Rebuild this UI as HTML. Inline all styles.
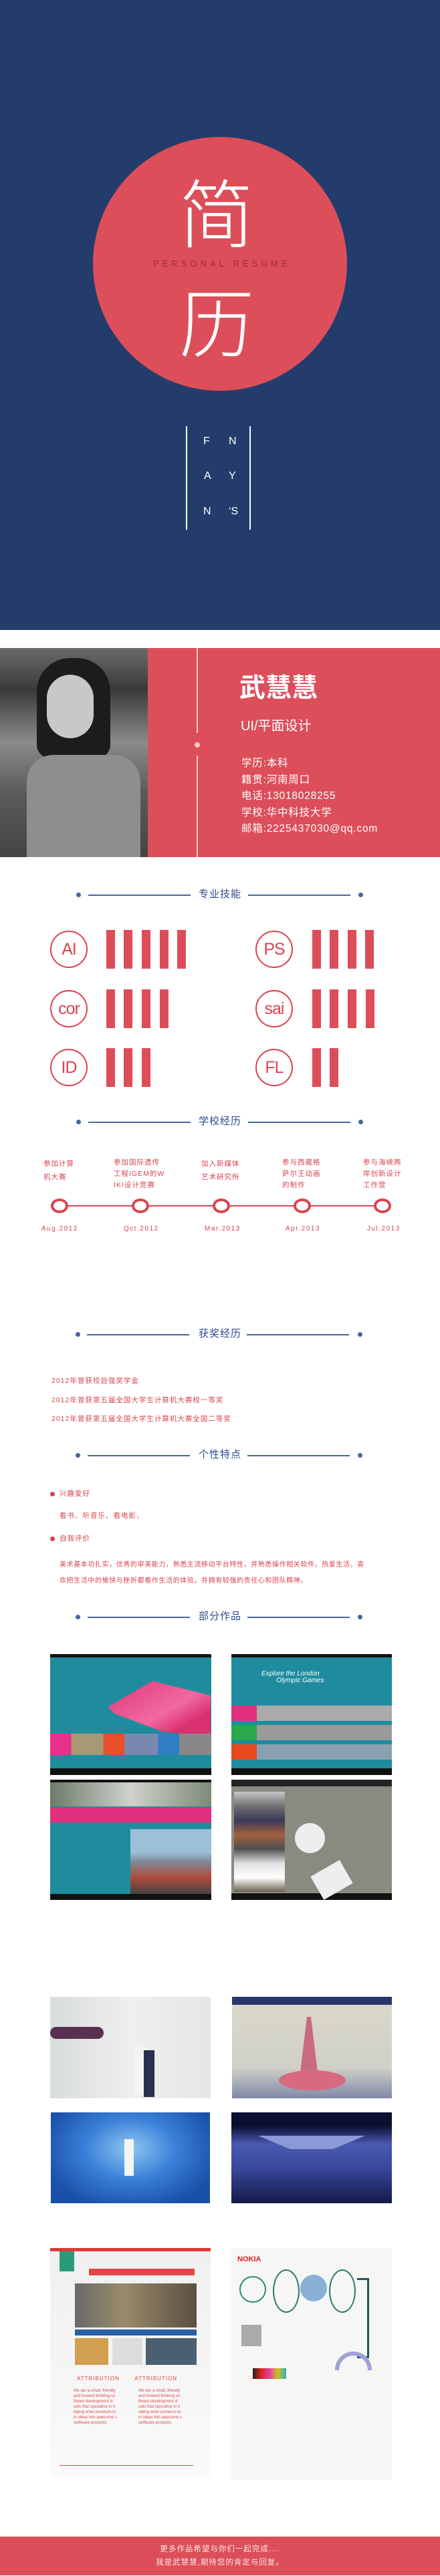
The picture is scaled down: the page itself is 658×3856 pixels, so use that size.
<!DOCTYPE html>
<html><head><meta charset="utf-8"><style>
*{margin:0;padding:0;box-sizing:border-box}
body{width:658px;height:3856px;position:relative;background:#fff;font-family:"Liberation Sans","Noto Sans CJK SC",sans-serif;overflow:hidden}
.a{position:absolute}
.t{position:absolute;line-height:1;white-space:nowrap}
.hd{position:absolute;left:0;width:658px;height:20px}
.hd .d{position:absolute;width:7px;height:7px;border-radius:50%;background:#4a64a0;top:6px}
.hd .l{position:absolute;height:1.5px;background:#4a64a0;top:9px}
.hd .x{position:absolute;left:285px;width:88px;text-align:center;font-size:15px;color:#2e4b8c;top:1px;line-height:1;letter-spacing:1px}
.sc{position:absolute;width:56px;height:56px;border:2px solid #d9434f;border-radius:50%;color:#d9434f;font-size:25px;text-align:center;line-height:52px;letter-spacing:-1px}
.bar{position:absolute;width:13px;height:58px;background:#dc4d59}
.tl{position:absolute;width:26px;height:22px;border:4px solid #d9434f;border-radius:50%;background:#fff}
.lab{position:absolute;font-size:10.5px;color:#d9434f;line-height:17px;letter-spacing:1px}
.dt{position:absolute;font-size:10px;color:#d9434f;letter-spacing:1.5px}
.rd{color:#d9434f;font-size:10.5px;letter-spacing:1px}
</style></head><body>
<!-- cover -->
<div class="a" style="left:0;top:0;width:658px;height:943px;background:#243c6c"></div>
<div class="a" style="left:139px;top:205px;width:380px;height:380px;border-radius:50%;background:#dc4f5a"></div>
<div class="t" style="left:268px;top:258px;font-size:112px;color:#fff;font-weight:300;font-family:'Noto Sans CJK SC',sans-serif">简</div>
<div class="t" style="left:229px;top:389px;font-size:12.5px;letter-spacing:5.4px;color:#9e2a3a">PERSONAL RESUME</div>
<div class="t" style="left:268px;top:422px;font-size:112px;color:#fff;font-weight:300;font-family:'Noto Sans CJK SC',sans-serif">历</div>
<div class="a" style="left:278px;top:638px;width:2px;height:155px;background:#fff"></div>
<div class="a" style="left:373px;top:638px;width:2px;height:155px;background:#fff"></div>
<div class="t" style="left:304px;top:653px;font-size:16px;color:#fff">F</div>
<div class="t" style="left:342px;top:653px;font-size:16px;color:#fff">N</div>
<div class="t" style="left:305px;top:705px;font-size:16px;color:#fff">A</div>
<div class="t" style="left:342px;top:705px;font-size:16px;color:#fff">Y</div>
<div class="t" style="left:304px;top:758px;font-size:16px;color:#fff">N</div>
<div class="t" style="left:342px;top:758px;font-size:16px;color:#fff">‘S</div>
<!-- profile band -->
<div class="a" style="left:0;top:970px;width:658px;height:313px;background:#dc4f5a"></div>
<div class="a" style="left:0;top:970px;width:221px;height:313px;background:linear-gradient(180deg,#6a6a6a 0%,#3a3a3a 20%,#8a8a8a 45%,#5a5a5a 70%,#444 100%)"></div>
<div class="a" style="left:55px;top:985px;width:110px;height:150px;border-radius:50px 50px 20px 20px;background:#1c1c1c"></div>
<div class="a" style="left:70px;top:1010px;width:70px;height:95px;border-radius:35px;background:#c8c8c8"></div>
<div class="a" style="left:40px;top:1130px;width:170px;height:153px;border-radius:40px 40px 0 0;background:#8e8e8e"></div>
<div class="a" style="left:294px;top:970px;width:1.5px;height:127px;background:#f3c9cc"></div>
<div class="a" style="left:291px;top:1111px;width:8px;height:8px;border-radius:50%;background:#f3c9cc"></div>
<div class="a" style="left:294px;top:1131px;width:1.5px;height:152px;background:#f3c9cc"></div>
<div class="t" style="left:358px;top:1011px;font-size:39px;color:#fff;font-weight:bold">武慧慧</div>
<div class="t" style="left:360px;top:1077px;font-size:20px;color:#fff">UI/平面设计</div>
<div class="t" style="left:361px;top:1131px;font-size:15.5px;color:#fff;line-height:24.5px;letter-spacing:0.8px">学历:本科<br>籍贯:河南周口<br>电话:13018028255<br>学校:华中科技大学<br>邮箱:2225437030@qq.com</div>
<!-- skills -->
<div class="hd" style="top:1330px"><div class="d" style="left:114px"></div><div class="l" style="left:132px;width:153px"></div><div class="x">专业技能</div><div class="l" style="left:371px;width:153px"></div><div class="d" style="left:536px"></div></div>
<div class="sc" style="left:75px;top:1393px">AI</div>
<div class="sc" style="left:382px;top:1393px">PS</div>
<div class="sc" style="left:75px;top:1482px">cor</div>
<div class="sc" style="left:382px;top:1482px">sai</div>
<div class="sc" style="left:75px;top:1570px">ID</div>
<div class="sc" style="left:382px;top:1570px">FL</div>
<div class="bar" style="left:159px;top:1392px"></div><div class="bar" style="left:185px;top:1392px"></div><div class="bar" style="left:212px;top:1392px"></div><div class="bar" style="left:239px;top:1392px"></div><div class="bar" style="left:265px;top:1392px"></div>
<div class="bar" style="left:467px;top:1392px"></div><div class="bar" style="left:493px;top:1392px"></div><div class="bar" style="left:520px;top:1392px"></div><div class="bar" style="left:546px;top:1392px"></div>
<div class="bar" style="left:159px;top:1481px"></div><div class="bar" style="left:185px;top:1481px"></div><div class="bar" style="left:212px;top:1481px"></div><div class="bar" style="left:239px;top:1481px"></div>
<div class="bar" style="left:467px;top:1481px"></div><div class="bar" style="left:493px;top:1481px"></div><div class="bar" style="left:520px;top:1481px"></div><div class="bar" style="left:547px;top:1481px"></div>
<div class="bar" style="left:159px;top:1569px"></div><div class="bar" style="left:185px;top:1569px"></div><div class="bar" style="left:212px;top:1569px"></div>
<div class="bar" style="left:467px;top:1569px"></div><div class="bar" style="left:493px;top:1569px"></div>
<!-- school -->
<div class="hd" style="top:1670px"><div class="d" style="left:114px"></div><div class="l" style="left:132px;width:153px"></div><div class="x">学校经历</div><div class="l" style="left:371px;width:153px"></div><div class="d" style="left:536px"></div></div>
<div class="a" style="left:89px;top:1804px;width:483px;height:2px;background:#d9434f"></div>
<div class="tl" style="left:76px;top:1794px"></div><div class="tl" style="left:197px;top:1794px"></div><div class="tl" style="left:318px;top:1794px"></div><div class="tl" style="left:439px;top:1794px"></div><div class="tl" style="left:559px;top:1794px"></div>
<div class="lab" style="left:65px;top:1732px;line-height:20px">参加计算<br>机大赛</div>
<div class="lab" style="left:170px;top:1732px">参加国际遗传<br>工程IGEM的W<br>IKI设计竞赛</div>
<div class="lab" style="left:301px;top:1732px;line-height:20px">加入新媒体<br>艺术研究所</div>
<div class="lab" style="left:422px;top:1732px">参与西藏格<br>萨尔王动画<br>的制作</div>
<div class="lab" style="left:543px;top:1732px">参与海峡两<br>岸创新设计<br>工作营</div>
<div class="dt" style="left:62px;top:1834px">Aug.2012</div>
<div class="dt" style="left:185px;top:1834px">Qct.2012</div>
<div class="dt" style="left:306px;top:1834px">Mar.2013</div>
<div class="dt" style="left:427px;top:1834px">Apr.2013</div>
<div class="dt" style="left:549px;top:1834px">Jul.2013</div>
<!-- awards -->
<div class="hd" style="top:1988px"><div class="d" style="left:113px"></div><div class="l" style="left:130px;width:153px"></div><div class="x">获奖经历</div><div class="l" style="left:369px;width:153px"></div><div class="d" style="left:535px"></div></div>
<div class="t rd" style="left:77px;top:2053px;line-height:28.5px">2012年曾获校自强奖学金<br>2012年曾获第五届全国大学生计算机大赛校一等奖<br>2012年曾获第五届全国大学生计算机大赛全国二等奖</div>
<!-- personality -->
<div class="hd" style="top:2169px"><div class="d" style="left:113px"></div><div class="l" style="left:131px;width:153px"></div><div class="x">个性特点</div><div class="l" style="left:370px;width:153px"></div><div class="d" style="left:535px"></div></div>
<div class="a" style="left:75px;top:2233px;width:7px;height:7px;border-radius:50%;background:#d9434f"></div>
<div class="t rd" style="left:89px;top:2231px">兴趣爱好</div>
<div class="t rd" style="left:89px;top:2264px">看书、听音乐、看电影、</div>
<div class="a" style="left:75px;top:2300px;width:7px;height:7px;border-radius:50%;background:#d9434f"></div>
<div class="t rd" style="left:89px;top:2298px">自我评价</div>
<div class="t rd" style="left:89px;top:2331px;font-size:10px;line-height:24px;letter-spacing:0.6px">美术基本功扎实，优秀的审美能力，熟悉主流移动平台特性，并熟悉操作相关软件。热爱生活，喜<br>欢把生活中的愉快与挫折都看作生活的体验。并拥有较强的责任心和团队精神。</div>
<!-- works -->
<div class="hd" style="top:2411px"><div class="d" style="left:113px"></div><div class="l" style="left:131px;width:153px"></div><div class="x">部分作品</div><div class="l" style="left:370px;width:153px"></div><div class="d" style="left:535px"></div></div>
<div class="a" style="left:75px;top:2476px;width:241px;height:181px;background:#1f8c9e;border-top:5px solid #111;border-bottom:10px solid #111">
 <div class="a" style="left:60px;top:30px;width:180px;height:90px;background:linear-gradient(150deg,transparent 30%,#e84b8a 31%,#f06aa0 60%,#d93070 80%);clip-path:polygon(0 20%,40% 0,100% 30%,100% 100%,60% 90%,20% 60%)"></div>
 <div class="a" style="left:0;top:114px;width:241px;height:32px;background:linear-gradient(90deg,#e8308a 0 13%,#a89878 13% 33%,#e84e2a 33% 46%,#7a88b0 46% 67%,#2e7fc4 67% 80%,#888 80%)"></div>
</div>
<div class="a" style="left:346px;top:2476px;width:240px;height:181px;background:#1f8c9e;border-top:5px solid #111;border-bottom:10px solid #111">
 <div class="t" style="left:45px;top:20px;font-size:10px;color:#fff;font-style:italic">Explore the London<br>&nbsp;&nbsp;&nbsp;&nbsp;&nbsp;&nbsp;&nbsp;&nbsp;Olympic Games</div>
 <div class="a" style="left:0;top:72px;width:240px;height:23px;background:linear-gradient(90deg,#e0307e 0 38px,#aaa 38px)"></div>
 <div class="a" style="left:0;top:101px;width:240px;height:23px;background:linear-gradient(90deg,#2aa84a 0 38px,#9a9a9a 38px)"></div>
 <div class="a" style="left:0;top:130px;width:240px;height:23px;background:linear-gradient(90deg,#e64a1e 0 38px,#8aa0b0 38px)"></div>
</div>
<div class="a" style="left:75px;top:2664px;width:241px;height:180px;background:#1f8c9e;border-top:4px solid #111;border-bottom:9px solid #111">
 <div class="a" style="left:0;top:0;width:241px;height:36px;background:linear-gradient(90deg,#6d7a6a,#cfd2cc,#7d8a78)"></div>
 <div class="a" style="left:0;top:38px;width:241px;height:22px;background:#e0307e"></div>
 <div class="a" style="left:120px;top:70px;width:121px;height:97px;background:linear-gradient(180deg,#9cc0d8 0 35%,#7d8a9a 50%,#b04a3a 75%,#444 100%)"></div>
</div>
<div class="a" style="left:346px;top:2664px;width:240px;height:180px;background:#8a8a80;border-top:10px solid #222;border-bottom:10px solid #111">
 <div class="a" style="left:4px;top:8px;width:76px;height:150px;background:linear-gradient(180deg,#c8c8c8,#707070,#3a3a5a,#a06040,#505050,#e0e0e0,#fff,#6a6050)"></div>
 <div class="a" style="left:95px;top:55px;width:45px;height:45px;border-radius:50%;background:#eee"></div>
 <div class="a" style="left:125px;top:120px;width:50px;height:40px;background:#eee;transform:rotate(-30deg)"></div>
</div>
<div class="a" style="left:75px;top:2989px;width:240px;height:152px;background:linear-gradient(90deg,#d9dcdc,#eef0ef 50%,#e6e6e4)">
 <div class="a" style="left:0;top:45px;width:80px;height:18px;border-radius:9px;background:#5a3050"></div>
 <div class="a" style="left:125px;top:75px;width:20px;height:72px;background:#f4f4f4"></div>
 <div class="a" style="left:140px;top:80px;width:16px;height:70px;background:#2a3050"></div>
</div>
<div class="a" style="left:347px;top:2989px;width:239px;height:152px;background:linear-gradient(180deg,#2a3570 0 12px,#dad8c8 12px,#d0d0c8 70%,#8088a8 100%)">
 <div class="a" style="left:100px;top:30px;width:30px;height:100px;background:#c86a80;clip-path:polygon(40% 0,60% 0,100% 100%,0 100%)"></div>
 <div class="a" style="left:70px;top:110px;width:100px;height:30px;background:#d86a80;border-radius:50%"></div>
</div>
<div class="a" style="left:76px;top:3162px;width:238px;height:136px;background:radial-gradient(ellipse at 50% 40%,#8fc8f0,#3a80d8 40%,#1a50a8 80%)">
 <div class="a" style="left:110px;top:40px;width:14px;height:55px;background:#f4f4f4"></div>
</div>
<div class="a" style="left:346px;top:3162px;width:240px;height:136px;background:linear-gradient(180deg,#0a1030 0 15%,#4a5ab0 35%,#3a48a0 60%,#141a48 100%)">
 <div class="a" style="left:40px;top:35px;width:160px;height:20px;background:#8a98d8;clip-path:polygon(0 0,100% 0,70% 100%,30% 100%)"></div>
</div>
<div class="a" style="left:75px;top:3365px;width:240px;height:343px;background:linear-gradient(180deg,#f0f0f0,#fafafa);border-top:5px solid #e03838">
 <div class="a" style="left:14px;top:0;width:22px;height:30px;background:#2a9a7a"></div>
 <div class="a" style="left:58px;top:26px;width:158px;height:10px;background:#e04848"></div>
 <div class="a" style="left:37px;top:48px;width:182px;height:66px;background:linear-gradient(90deg,#6a6a6a,#9a8a6a 40%,#5a5040)"></div>
 <div class="a" style="left:37px;top:117px;width:182px;height:9px;background:#2a60a8"></div>
 <div class="a" style="left:37px;top:130px;width:50px;height:40px;background:#d0a050"></div>
 <div class="a" style="left:93px;top:130px;width:45px;height:40px;background:#ddd"></div>
 <div class="a" style="left:143px;top:130px;width:76px;height:40px;background:#4a6070"></div>
 <div class="t" style="left:40px;top:187px;font-size:8px;color:#e04848;letter-spacing:1px">ATTRIBUTION&nbsp;&nbsp;&nbsp;&nbsp;&nbsp;&nbsp;&nbsp;ATTRIBUTION</div>
 <div class="t" style="left:35px;top:205px;font-size:6px;color:#e04848;line-height:8px">We aer a small, friendly<br>and forward thinking so<br>ftware development st<br>udio that specialise in h<br>elping enter preneurs tu<br>rn ideas into awesome s<br>owftware products.</div>
 <div class="t" style="left:132px;top:205px;font-size:6px;color:#e04848;line-height:8px">We aer a small, friendly<br>and forward thinking so<br>ftware development st<br>udio that specialise in h<br>elping enter preneurs tu<br>rn ideas into awesome s<br>owftware products.</div>
 <div class="a" style="left:14px;top:320px;width:200px;height:1px;background:#e04848"></div>
</div>
<div class="a" style="left:346px;top:3365px;width:240px;height:347px;background:#f6f6f4">
 <div class="t" style="left:9px;top:12px;font-size:11px;font-weight:bold;color:#e02020">NOKIA</div>
 <div class="a" style="left:12px;top:42px;width:40px;height:40px;border:2px solid #2a8a7a;border-radius:50%"></div>
 <div class="a" style="left:62px;top:32px;width:40px;height:65px;border:2px solid #2a7a6a;border-radius:50%"></div>
 <div class="a" style="left:103px;top:40px;width:40px;height:40px;border-radius:50%;background:#8ab0d8"></div>
 <div class="a" style="left:146px;top:32px;width:40px;height:65px;border:2px solid #2a7a6a;border-radius:50%"></div>
 <div class="a" style="left:188px;top:45px;width:18px;height:120px;border:3px solid #1e5a5a;border-left:none"></div>
 <div class="a" style="left:15px;top:115px;width:30px;height:32px;background:#aaa"></div>
 <div class="a" style="left:32px;top:180px;width:50px;height:16px;background:linear-gradient(90deg,#222,#e02020,#e040a0,#d0c020,#30b0c0)"></div>
 <div class="a" style="left:155px;top:155px;width:55px;height:28px;border:6px solid #a0a0d8;border-bottom:none;border-radius:30px 30px 0 0"></div>
</div>
<!-- footer -->
<div class="a" style="left:0;top:3797px;width:658px;height:58px;background:#dc4f5a"></div>
<div class="t" style="left:0;width:658px;text-align:center;top:3811px;font-size:11.5px;color:#fbe2e4;letter-spacing:1px">更多作品希望与你们一起完成....</div>
<div class="t" style="left:0;width:658px;text-align:center;top:3831px;font-size:11.5px;color:#fbe2e4;letter-spacing:1px">我是武慧慧,期待您的肯定与回复。</div>
</body></html>
